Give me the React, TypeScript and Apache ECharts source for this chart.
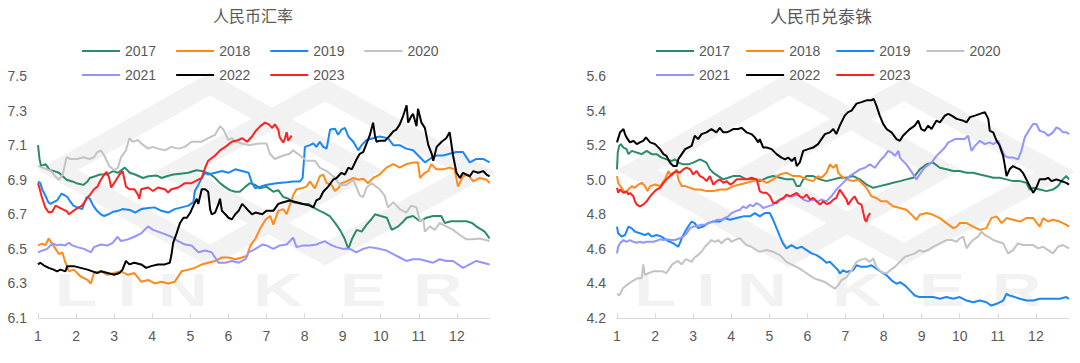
import React, { useEffect, useRef } from "react";
import * as echarts from "echarts";

const FONT = '"Liberation Sans", Arial, "Noto Sans CJK SC", sans-serif';
const CJK = '"Noto Sans CJK SC", "Liberation Sans", sans-serif';

const YEARS = ["2017", "2018", "2019", "2020", "2021", "2022", "2023"];
const COLORS = ["#2b8a6c", "#ff8a1c", "#1a87f5", "#c3c3c3", "#9494ff", "#000000", "#ff2020"];
const MONTH_TICKS = [1, 2, 3, 4, 5, 6, 7, 8, 9, 10, 11, 12];
const TITLES = ["人民币汇率", "人民币兑泰铢"];

// ---------- 人民币汇率 (left) ----------
const L2017 = [[1,7.10],[1.04,7.02],[1.08,6.98],[1.2,6.99],[1.31,6.955],[1.42,6.95],[1.55,6.94],[1.75,6.90],[1.9,6.89],[2.01,6.88],[2.19,6.87],[2.3,6.89],[2.36,6.91],[2.5,6.92],[2.63,6.93],[2.8,6.93],[2.98,6.95],[3.1,6.94],[3.28,6.97],[3.41,6.94],[3.55,6.93],[3.76,6.91],[3.9,6.92],[4.11,6.925],[4.25,6.91],[4.38,6.92],[4.55,6.93],[4.73,6.935],[4.95,6.94],[5.16,6.955],[5.3,6.95],[5.51,6.935],[5.65,6.91],[5.78,6.88],[5.9,6.86],[6.04,6.84],[6.18,6.83],[6.30,6.83],[6.45,6.86],[6.56,6.88],[6.7,6.87],[6.83,6.85],[7.0,6.86],[7.18,6.83],[7.31,6.84],[7.44,6.80],[7.58,6.79],[7.70,6.77],[7.96,6.76],[8.1,6.76],[8.23,6.74],[8.40,6.72],[8.5,6.71],[8.66,6.69],[8.8,6.65],[8.93,6.61],[9.05,6.56],[9.15,6.50],[9.25,6.56],[9.37,6.61],[9.5,6.60],[9.63,6.64],[9.75,6.67],[9.85,6.70],[10.0,6.69],[10.16,6.68],[10.29,6.61],[10.46,6.63],[10.6,6.66],[10.68,6.68],[10.85,6.69],[11.03,6.66],[11.2,6.68],[11.38,6.69],[11.59,6.69],[11.68,6.65],[11.85,6.66],[11.99,6.66],[12.25,6.66],[12.4,6.65],[12.51,6.63],[12.73,6.60],[12.86,6.56]];
const L2018 = [[1,6.52],[1.11,6.53],[1.19,6.52],[1.28,6.56],[1.37,6.53],[1.46,6.50],[1.55,6.47],[1.64,6.48],[1.72,6.42],[1.81,6.37],[1.94,6.38],[2.12,6.34],[2.30,6.32],[2.39,6.30],[2.47,6.36],[2.65,6.37],[2.83,6.35],[3.0,6.36],[3.18,6.37],[3.36,6.35],[3.53,6.36],[3.71,6.31],[3.89,6.32],[4.06,6.30],[4.24,6.31],[4.42,6.30],[4.59,6.31],[4.77,6.37],[4.95,6.38],[5.12,6.39],[5.30,6.41],[5.47,6.42],[5.65,6.43],[5.83,6.45],[6.0,6.45],[6.18,6.44],[6.36,6.45],[6.49,6.46],[6.58,6.52],[6.71,6.56],[6.84,6.62],[6.98,6.67],[7.1,6.69],[7.18,6.64],[7.31,6.72],[7.44,6.73],[7.53,6.70],[7.70,6.81],[7.79,6.845],[7.92,6.85],[8.05,6.86],[8.14,6.89],[8.27,6.85],[8.40,6.92],[8.49,6.93],[8.58,6.88],[8.71,6.87],[8.80,6.835],[8.88,6.85],[8.97,6.88],[9.10,6.89],[9.28,6.91],[9.41,6.90],[9.54,6.905],[9.67,6.88],[9.80,6.91],[9.97,6.93],[10.15,6.97],[10.33,6.99],[10.50,6.97],[10.67,6.99],[10.85,7.0],[10.98,7.0],[11.03,6.91],[11.16,6.94],[11.25,6.95],[11.33,6.99],[11.46,6.96],[11.64,6.96],[11.81,6.97],[11.94,6.96],[12.03,6.86],[12.16,6.92],[12.29,6.93],[12.43,6.89],[12.60,6.91],[12.78,6.90],[12.86,6.88]];
const L2019 = [[1,6.89],[1.06,6.88],[1.12,6.84],[1.19,6.81],[1.27,6.77],[1.33,6.76],[1.41,6.77],[1.50,6.78],[1.62,6.82],[1.70,6.81],[1.77,6.80],[1.86,6.77],[1.93,6.75],[2.03,6.74],[2.16,6.73],[2.28,6.80],[2.36,6.79],[2.45,6.75],[2.55,6.72],[2.65,6.70],[2.74,6.69],[2.85,6.70],[2.98,6.715],[3.1,6.72],[3.22,6.73],[3.41,6.725],[3.55,6.71],[3.71,6.73],[3.85,6.735],[4.06,6.74],[4.24,6.72],[4.42,6.71],[4.59,6.73],[4.77,6.74],[4.95,6.75],[5.08,6.77],[5.12,6.835],[5.21,6.87],[5.30,6.91],[5.39,6.94],[5.47,6.93],[5.65,6.94],[5.83,6.95],[6.0,6.94],[6.18,6.96],[6.36,6.95],[6.53,6.94],[6.62,6.88],[6.71,6.85],[6.84,6.86],[6.98,6.87],[7.26,6.88],[7.53,6.885],[7.70,6.89],[7.88,6.89],[7.95,6.91],[8.01,7.09],[8.14,7.10],[8.23,7.11],[8.31,7.09],[8.40,7.12],[8.49,7.09],[8.58,7.08],[8.67,7.19],[8.80,7.195],[8.88,7.16],[8.97,7.19],[9.06,7.20],[9.15,7.15],[9.28,7.12],[9.41,7.07],[9.50,7.10],[9.63,7.13],[9.80,7.14],[9.97,7.15],[10.19,7.14],[10.33,7.10],[10.50,7.10],[10.67,7.08],[10.85,7.07],[11.03,7.03],[11.16,7.00],[11.29,7.02],[11.46,7.04],[11.64,7.04],[11.81,7.05],[11.99,7.06],[12.16,7.06],[12.34,7.00],[12.51,7.02],[12.69,7.02],[12.86,7.00]];
const L2020 = [[1,6.98],[1.11,6.97],[1.24,6.96],[1.35,6.95],[1.45,6.92],[1.55,6.90],[1.65,6.93],[1.75,7.03],[1.86,7.02],[2.03,7.02],[2.2,7.03],[2.35,7.02],[2.47,7.03],[2.56,7.06],[2.65,7.07],[2.74,7.04],[2.87,6.98],[3.0,6.955],[3.1,6.97],[3.18,7.03],[3.31,7.07],[3.40,7.14],[3.49,7.12],[3.62,7.13],[3.71,7.11],[3.89,7.08],[4.02,7.09],[4.15,7.08],[4.33,7.07],[4.50,7.09],[4.68,7.08],[4.86,7.09],[5.03,7.12],[5.30,7.12],[5.47,7.14],[5.65,7.16],[5.78,7.21],[5.87,7.19],[6.0,7.13],[6.09,7.14],[6.18,7.12],[6.36,7.11],[6.53,7.10],[6.83,7.11],[7.0,7.11],[7.09,7.05],[7.22,7.02],[7.44,7.04],[7.61,7.05],[7.70,7.07],[7.88,7.04],[8.05,7.01],[8.27,7.01],[8.40,6.97],[8.58,6.95],[8.80,6.91],[8.93,6.87],[9.10,6.87],[9.28,6.90],[9.45,6.81],[9.54,6.80],[9.63,6.855],[9.76,6.88],[9.97,6.845],[10.10,6.81],[10.19,6.74],[10.33,6.77],[10.50,6.73],[10.67,6.71],[10.80,6.75],[10.94,6.74],[11.03,6.66],[11.12,6.67],[11.16,6.60],[11.29,6.63],[11.42,6.61],[11.55,6.65],[11.72,6.63],[11.90,6.61],[12.08,6.58],[12.25,6.555],[12.43,6.555],[12.60,6.56],[12.86,6.545]];
const L2021 = [[1,6.48],[1.11,6.49],[1.24,6.50],[1.33,6.52],[1.41,6.53],[1.50,6.52],[1.59,6.525],[1.72,6.52],[1.81,6.535],[1.90,6.52],[2.03,6.51],[2.21,6.50],[2.39,6.48],[2.47,6.51],[2.65,6.525],[2.83,6.52],[2.96,6.535],[3.09,6.57],[3.18,6.545],[3.36,6.555],[3.53,6.57],[3.71,6.59],[3.89,6.63],[4.02,6.61],[4.15,6.60],[4.33,6.585],[4.50,6.57],[4.68,6.545],[4.86,6.525],[5.03,6.52],[5.21,6.48],[5.39,6.49],[5.56,6.48],[5.74,6.42],[5.92,6.42],[6.09,6.43],[6.27,6.42],[6.45,6.44],[6.53,6.48],[6.71,6.50],[6.89,6.525],[7.0,6.52],[7.18,6.50],[7.35,6.52],[7.53,6.525],[7.70,6.565],[7.79,6.51],[7.96,6.52],[8.14,6.52],[8.31,6.525],[8.53,6.545],[8.67,6.525],[8.84,6.51],[9.01,6.50],[9.19,6.50],[9.36,6.48],[9.54,6.50],[9.71,6.51],[9.97,6.50],[10.15,6.49],[10.33,6.47],[10.50,6.45],[10.67,6.43],[10.85,6.44],[11.03,6.44],[11.20,6.43],[11.38,6.42],[11.55,6.44],[11.72,6.43],[11.90,6.43],[12.16,6.39],[12.25,6.40],[12.51,6.43],[12.69,6.42],[12.86,6.41]];
const L2022 = [[1,6.41],[1.06,6.42],[1.15,6.405],[1.28,6.39],[1.41,6.38],[1.50,6.37],[1.59,6.38],[1.72,6.37],[1.77,6.40],[1.94,6.40],[2.12,6.39],[2.30,6.38],[2.43,6.37],[2.56,6.36],[2.65,6.37],[2.83,6.36],[3.0,6.35],[3.14,6.36],[3.22,6.38],[3.31,6.43],[3.40,6.41],[3.53,6.42],[3.71,6.41],[3.84,6.39],[3.97,6.40],[4.15,6.41],[4.33,6.41],[4.46,6.42],[4.50,6.46],[4.55,6.535],[4.64,6.59],[4.73,6.65],[4.82,6.68],[4.91,6.68],[5.0,6.71],[5.08,6.75],[5.17,6.79],[5.21,6.76],[5.30,6.845],[5.39,6.845],[5.47,6.83],[5.52,6.73],[5.56,6.70],[5.65,6.71],[5.74,6.76],[5.78,6.79],[5.83,6.72],[5.92,6.70],[6.0,6.68],[6.09,6.67],[6.18,6.70],[6.27,6.72],[6.36,6.76],[6.45,6.74],[6.53,6.72],[6.62,6.70],[6.71,6.71],[6.89,6.70],[7.0,6.72],[7.18,6.72],[7.31,6.76],[7.44,6.77],[7.61,6.78],[7.79,6.77],[7.96,6.76],[8.14,6.75],[8.23,6.74],[8.31,6.78],[8.40,6.79],[8.49,6.83],[8.62,6.86],[8.75,6.90],[8.84,6.91],[8.97,6.94],[9.06,6.93],[9.15,6.97],[9.24,6.96],[9.37,7.02],[9.45,7.05],[9.54,7.06],[9.63,7.11],[9.71,7.155],[9.80,7.23],[9.85,7.155],[9.89,7.12],[9.97,7.125],[10.11,7.125],[10.24,7.155],[10.33,7.18],[10.41,7.19],[10.50,7.22],[10.59,7.27],[10.68,7.33],[10.72,7.23],[10.81,7.27],[10.85,7.28],[10.94,7.21],[10.98,7.31],[11.07,7.23],[11.16,7.20],[11.25,7.10],[11.34,7.05],[11.38,7.01],[11.47,7.09],[11.60,7.12],[11.72,7.14],[11.81,7.175],[11.90,7.04],[11.99,6.94],[12.08,6.91],[12.16,6.94],[12.25,6.93],[12.34,6.92],[12.43,6.95],[12.56,6.94],[12.69,6.95],[12.78,6.93],[12.86,6.92]];
const L2023 = [[1,6.88],[1.04,6.85],[1.1,6.80],[1.19,6.74],[1.28,6.71],[1.37,6.715],[1.46,6.75],[1.55,6.74],[1.64,6.73],[1.77,6.715],[1.81,6.70],[1.90,6.715],[2.03,6.735],[2.16,6.75],[2.28,6.79],[2.39,6.82],[2.47,6.845],[2.56,6.86],[2.65,6.90],[2.74,6.93],[2.80,6.945],[2.87,6.91],[2.92,6.855],[3.0,6.88],[3.14,6.93],[3.22,6.95],[3.31,6.86],[3.40,6.845],[3.53,6.845],[3.62,6.815],[3.66,6.79],[3.71,6.845],[3.89,6.855],[4.02,6.835],[4.15,6.855],[4.33,6.845],[4.42,6.826],[4.50,6.845],[4.68,6.855],[4.86,6.88],[5.03,6.88],[5.21,6.90],[5.30,6.91],[5.39,6.97],[5.47,7.01],[5.65,7.04],[5.78,7.07],[5.92,7.09],[6.09,7.12],[6.27,7.13],[6.36,7.14],[6.49,7.12],[6.62,7.15],[6.71,7.18],[6.84,7.21],[6.96,7.23],[7.06,7.22],[7.15,7.20],[7.22,7.22],[7.31,7.19],[7.35,7.145],[7.44,7.115],[7.48,7.135],[7.53,7.175],[7.57,7.125],[7.66,7.155]];

// ---------- 人民币兑泰铢 (right) ----------
const R2017 = [[1,5.06],[1.02,5.157],[1.06,5.196],[1.10,5.206],[1.17,5.186],[1.25,5.177],[1.30,5.148],[1.39,5.167],[1.52,5.157],[1.65,5.148],[1.78,5.167],[1.91,5.148],[2.04,5.148],[2.17,5.128],[2.30,5.118],[2.43,5.108],[2.52,5.118],[2.61,5.099],[2.74,5.089],[2.87,5.089],[3.0,5.099],[3.18,5.118],[3.35,5.099],[3.44,5.06],[3.53,5.04],[3.66,5.021],[3.79,5.002],[3.92,5.011],[4.05,5.021],[4.23,5.021],[4.40,5.002],[4.58,5.002],[4.75,4.992],[4.93,5.011],[5.10,5.021],[5.28,5.011],[5.45,5.002],[5.63,5.002],[5.72,4.963],[5.80,4.963],[5.89,5.002],[5.98,5.021],[6.15,5.021],[6.33,5.002],[6.50,4.992],[6.68,5.002],[6.85,5.011],[7.03,5.011],[7.20,5.021],[7.38,5.002],[7.55,4.972],[7.73,4.953],[7.90,4.963],[8.08,4.972],[8.25,4.982],[8.43,4.992],[8.60,5.002],[8.78,5.011],[8.95,5.06],[9.13,5.089],[9.30,5.099],[9.48,5.069],[9.65,5.06],[9.83,5.05],[10.0,5.05],[10.18,5.04],[10.35,5.04],[10.53,5.03],[10.70,5.021],[10.88,5.011],[11.05,5.011],[11.23,5.002],[11.40,4.992],[11.58,4.992],[11.75,4.982],[11.84,4.943],[11.93,4.953],[12.10,4.943],[12.28,4.934],[12.45,4.943],[12.58,4.963],[12.71,5.002],[12.80,5.021],[12.87,5.002]];
const R2018 = [[1,5.021],[1.03,4.982],[1.12,4.953],[1.21,4.924],[1.30,4.943],[1.39,4.963],[1.47,4.953],[1.56,4.972],[1.65,4.982],[1.74,4.963],[1.80,4.934],[1.87,4.963],[2.00,4.972],[2.13,4.963],[2.26,5.002],[2.35,5.05],[2.43,5.021],[2.57,5.06],[2.61,5.002],[2.70,4.963],[2.79,4.963],[2.92,4.953],[3.05,4.943],[3.18,4.943],[3.35,4.934],[3.53,4.934],[3.70,4.943],[3.88,4.943],[4.05,4.963],[4.23,4.972],[4.40,4.982],[4.58,4.992],[4.75,5.002],[4.93,4.982],[5.10,5.002],[5.28,5.031],[5.45,5.04],[5.63,5.021],[5.80,5.021],[5.98,5.002],[6.15,4.992],[6.28,5.021],[6.37,5.011],[6.50,5.04],[6.59,5.089],[6.68,5.069],[6.76,5.089],[6.81,5.04],[6.89,5.021],[7.03,5.002],[7.20,4.992],[7.33,5.002],[7.42,4.982],[7.55,4.953],[7.68,4.904],[7.81,4.894],[7.94,4.875],[8.08,4.875],[8.25,4.846],[8.43,4.836],[8.60,4.826],[8.78,4.788],[8.86,4.768],[8.95,4.797],[9.13,4.807],[9.30,4.797],[9.48,4.778],[9.65,4.749],[9.83,4.72],[9.92,4.729],[10.0,4.749],[10.18,4.749],[10.35,4.729],[10.53,4.71],[10.70,4.72],[10.83,4.778],[10.97,4.788],[11.10,4.749],[11.23,4.778],[11.40,4.768],[11.58,4.758],[11.75,4.778],[11.93,4.778],[12.10,4.729],[12.19,4.778],[12.32,4.758],[12.45,4.768],[12.63,4.758],[12.80,4.739],[12.87,4.729]];
const R2019 = [[1,4.729],[1.03,4.69],[1.12,4.671],[1.21,4.68],[1.30,4.729],[1.38,4.72],[1.47,4.70],[1.60,4.69],[1.73,4.68],[1.82,4.69],[1.91,4.671],[2.04,4.68],[2.17,4.671],[2.30,4.651],[2.39,4.641],[2.48,4.632],[2.61,4.612],[2.70,4.661],[2.79,4.70],[2.87,4.729],[2.96,4.758],[3.04,4.749],[3.13,4.72],[3.26,4.729],[3.39,4.749],[3.53,4.758],[3.70,4.758],[3.83,4.778],[3.97,4.768],[4.14,4.778],[4.32,4.788],[4.49,4.788],[4.62,4.807],[4.75,4.788],[4.88,4.807],[5.01,4.807],[5.10,4.768],[5.19,4.72],[5.28,4.671],[5.36,4.632],[5.45,4.603],[5.58,4.622],[5.72,4.603],[5.85,4.612],[5.98,4.593],[6.11,4.574],[6.24,4.564],[6.37,4.545],[6.50,4.52],[6.59,4.525],[6.72,4.496],[6.81,4.476],[6.85,4.457],[6.94,4.476],[7.03,4.466],[7.20,4.476],[7.29,4.505],[7.42,4.496],[7.55,4.496],[7.68,4.505],[7.81,4.486],[7.94,4.466],[8.08,4.447],[8.21,4.418],[8.34,4.398],[8.43,4.408],[8.56,4.389],[8.69,4.36],[8.82,4.33],[8.95,4.321],[9.13,4.321],[9.30,4.321],[9.48,4.311],[9.65,4.321],[9.83,4.311],[10.0,4.321],[10.18,4.301],[10.35,4.291],[10.53,4.301],[10.70,4.291],[10.83,4.272],[10.97,4.282],[11.14,4.301],[11.23,4.34],[11.31,4.33],[11.45,4.321],[11.58,4.311],[11.75,4.301],[11.93,4.301],[12.10,4.311],[12.28,4.311],[12.45,4.311],[12.63,4.311],[12.80,4.321],[12.87,4.311]];
const R2020 = [[1,4.34],[1.06,4.33],[1.15,4.37],[1.25,4.39],[1.38,4.41],[1.55,4.43],[1.65,4.43],[1.69,4.51],[1.73,4.45],[1.95,4.47],[2.2,4.47],[2.3,4.46],[2.45,4.51],[2.6,4.53],[2.7,4.51],[2.8,4.54],[2.87,4.535],[2.96,4.525],[3.05,4.554],[3.13,4.564],[3.22,4.583],[3.31,4.612],[3.40,4.632],[3.48,4.651],[3.57,4.641],[3.66,4.651],[3.74,4.632],[3.83,4.651],[3.92,4.661],[4.01,4.641],[4.09,4.651],[4.23,4.661],[4.31,4.641],[4.40,4.622],[4.53,4.612],[4.66,4.593],[4.75,4.583],[4.93,4.593],[5.10,4.583],[5.28,4.564],[5.45,4.525],[5.63,4.505],[5.80,4.486],[5.93,4.466],[6.06,4.447],[6.19,4.428],[6.33,4.418],[6.46,4.408],[6.59,4.389],[6.72,4.369],[6.81,4.389],[6.89,4.418],[7.03,4.437],[7.16,4.476],[7.29,4.525],[7.38,4.535],[7.51,4.545],[7.64,4.525],[7.73,4.545],[7.81,4.496],[7.94,4.466],[8.08,4.457],[8.17,4.476],[8.30,4.496],[8.43,4.525],[8.56,4.554],[8.69,4.564],[8.82,4.574],[8.95,4.593],[9.04,4.583],[9.17,4.593],[9.30,4.612],[9.48,4.632],[9.65,4.651],[9.79,4.651],[9.92,4.641],[10.0,4.661],[10.09,4.671],[10.18,4.603],[10.27,4.632],[10.35,4.651],[10.48,4.671],[10.57,4.70],[10.66,4.68],[10.75,4.671],[10.88,4.651],[11.01,4.641],[11.14,4.632],[11.27,4.574],[11.40,4.593],[11.53,4.632],[11.66,4.622],[11.79,4.622],[11.93,4.622],[12.06,4.603],[12.19,4.612],[12.32,4.593],[12.45,4.574],[12.58,4.612],[12.71,4.622],[12.87,4.603]];
const R2021 = [[1,4.574],[1.03,4.612],[1.08,4.632],[1.17,4.651],[1.25,4.641],[1.34,4.651],[1.43,4.641],[1.52,4.635],[1.60,4.641],[1.69,4.635],[1.78,4.641],[1.87,4.641],[1.95,4.641],[2.04,4.647],[2.13,4.655],[2.22,4.651],[2.30,4.655],[2.43,4.651],[2.52,4.651],[2.65,4.661],[2.74,4.671],[2.83,4.69],[2.92,4.72],[3.0,4.729],[3.09,4.729],[3.18,4.739],[3.31,4.739],[3.40,4.749],[3.53,4.758],[3.62,4.768],[3.75,4.768],[3.83,4.778],[3.92,4.788],[4.01,4.807],[4.10,4.817],[4.23,4.826],[4.31,4.846],[4.40,4.836],[4.49,4.855],[4.58,4.846],[4.66,4.865],[4.75,4.855],[4.84,4.836],[4.97,4.846],[5.10,4.855],[5.19,4.875],[5.28,4.885],[5.36,4.885],[5.45,4.904],[5.54,4.904],[5.63,4.904],[5.71,4.914],[5.80,4.904],[5.89,4.885],[6.02,4.875],[6.15,4.885],[6.28,4.875],[6.37,4.885],[6.50,4.875],[6.63,4.904],[6.76,4.943],[6.85,4.963],[6.98,4.992],[7.11,5.021],[7.24,5.04],[7.38,5.06],[7.51,5.069],[7.64,5.089],[7.77,5.069],[7.90,5.108],[8.03,5.138],[8.12,5.167],[8.21,5.157],[8.30,5.138],[8.39,5.167],[8.43,5.128],[8.51,5.108],[8.60,5.089],[8.69,5.06],[8.78,5.031],[8.86,5.002],[8.95,5.031],[9.04,5.06],[9.13,5.079],[9.26,5.099],[9.39,5.138],[9.48,5.157],[9.61,5.186],[9.70,5.216],[9.79,5.225],[9.87,5.235],[10.0,5.235],[10.13,5.235],[10.22,5.254],[10.31,5.167],[10.40,5.196],[10.53,5.225],[10.66,5.206],[10.79,5.216],[10.88,5.206],[11.01,5.225],[11.10,5.177],[11.18,5.138],[11.27,5.128],[11.40,5.128],[11.53,5.118],[11.62,5.167],[11.71,5.245],[11.84,5.293],[11.93,5.323],[12.01,5.323],[12.10,5.283],[12.23,5.274],[12.32,5.254],[12.45,5.274],[12.54,5.303],[12.63,5.293],[12.71,5.274],[12.80,5.274],[12.87,5.264]];
const R2022 = [[1,5.216],[1.04,5.245],[1.08,5.274],[1.17,5.293],[1.21,5.264],[1.25,5.245],[1.34,5.216],[1.43,5.225],[1.52,5.206],[1.60,5.216],[1.69,5.225],[1.76,5.245],[1.87,5.216],[2.0,5.206],[2.13,5.177],[2.22,5.148],[2.30,5.138],[2.39,5.099],[2.48,5.079],[2.57,5.079],[2.61,5.118],[2.70,5.148],[2.79,5.177],[2.87,5.186],[2.96,5.196],[3.04,5.254],[3.13,5.235],[3.22,5.264],[3.35,5.274],[3.48,5.293],[3.61,5.274],[3.70,5.30],[3.79,5.274],[3.88,5.274],[3.97,5.283],[4.05,5.293],[4.18,5.293],[4.27,5.30],[4.40,5.274],[4.53,5.264],[4.62,5.245],[4.71,5.216],[4.75,5.235],[4.84,5.186],[4.93,5.186],[5.06,5.177],[5.19,5.148],[5.32,5.128],[5.41,5.118],[5.50,5.128],[5.59,5.108],[5.67,5.128],[5.72,5.079],[5.80,5.10],[5.89,5.167],[6.02,5.177],[6.15,5.186],[6.28,5.206],[6.37,5.235],[6.46,5.264],[6.59,5.274],[6.68,5.293],[6.76,5.264],[6.85,5.313],[6.98,5.371],[7.07,5.391],[7.16,5.40],[7.29,5.44],[7.42,5.449],[7.55,5.459],[7.68,5.459],[7.74,5.468],[7.81,5.43],[7.90,5.371],[7.99,5.323],[8.08,5.293],[8.21,5.274],[8.34,5.235],[8.43,5.225],[8.51,5.254],[8.60,5.274],[8.69,5.293],[8.82,5.313],[8.91,5.342],[8.99,5.293],[9.08,5.283],[9.17,5.313],[9.26,5.293],[9.39,5.342],[9.48,5.332],[9.61,5.371],[9.70,5.381],[9.79,5.371],[9.92,5.352],[10.09,5.342],[10.18,5.332],[10.27,5.362],[10.40,5.371],[10.53,5.381],[10.66,5.391],[10.75,5.352],[10.79,5.283],[10.88,5.274],[10.97,5.225],[11.05,5.196],[11.14,5.138],[11.18,5.089],[11.23,5.021],[11.31,5.06],[11.40,5.079],[11.49,5.069],[11.58,5.06],[11.66,5.04],[11.75,5.002],[11.84,4.963],[11.93,4.924],[12.01,4.953],[12.10,5.002],[12.23,5.002],[12.32,5.011],[12.41,4.992],[12.54,5.002],[12.67,4.992],[12.80,4.982],[12.87,4.972]];
const R2023 = [[1,4.953],[1.03,4.924],[1.08,4.943],[1.17,4.924],[1.25,4.933],[1.30,4.914],[1.34,4.924],[1.43,4.904],[1.47,4.875],[1.52,4.856],[1.60,4.846],[1.69,4.856],[1.78,4.875],[1.87,4.904],[1.95,4.924],[2.04,4.943],[2.13,4.953],[2.22,4.982],[2.30,5.002],[2.39,5.021],[2.48,5.04],[2.57,5.05],[2.65,5.04],[2.74,5.06],[2.83,5.07],[2.92,5.06],[3.0,5.031],[3.09,5.05],[3.18,5.021],[3.27,5.011],[3.35,4.992],[3.44,5.021],[3.53,4.972],[3.62,4.992],[3.70,5.002],[3.79,4.982],[3.88,4.992],[3.97,4.972],[4.05,4.982],[4.14,5.002],[4.27,5.002],[4.40,5.002],[4.53,5.011],[4.67,5.002],[4.75,4.933],[4.84,4.924],[4.93,4.924],[5.02,4.904],[5.10,4.865],[5.19,4.865],[5.28,4.885],[5.37,4.895],[5.45,4.914],[5.54,4.904],[5.63,4.914],[5.72,4.924],[5.80,4.904],[5.89,4.895],[5.98,4.914],[6.07,4.885],[6.15,4.895],[6.24,4.875],[6.33,4.856],[6.42,4.875],[6.50,4.86],[6.59,4.865],[6.68,4.885],[6.76,4.895],[6.85,4.943],[6.94,4.914],[7.03,4.885],[7.07,4.856],[7.16,4.885],[7.24,4.904],[7.33,4.865],[7.42,4.856],[7.46,4.817],[7.51,4.768],[7.55,4.758],[7.59,4.788],[7.65,4.807]];

const LEFT_SERIES = [L2017, L2018, L2019, L2020, L2021, L2022, L2023];
const RIGHT_SERIES = [R2017, R2018, R2019, R2020, R2021, R2022, R2023];
const LEFT_Y = { min: 6.1, max: 7.5 };
const RIGHT_Y = { min: 4.2, max: 5.6 };

const LEGEND_ICON = "path://M0,0 L38,0 L38,2.2 L0,2.2 Z";

function watermark(dx: number) {
  const wm = "#f2f2f2";
  const letters: [string, number][] = [["L", 76], ["I", 127], ["N", 183], ["K", 278], ["E", 363], ["R", 438]];
  const els: any[] = [
    { type: "polygon", z: -10, silent: true, shape: { points: [[58 + dx, 170], [210 + dx, 84], [362 + dx, 170], [210 + dx, 256]] }, style: { fill: "none", stroke: wm, lineWidth: 20 } },
    { type: "polygon", z: -10, silent: true, shape: { points: [[175 + dx, 172], [325 + dx, 90], [475 + dx, 172], [325 + dx, 254]] }, style: { fill: "none", stroke: wm, lineWidth: 20 } },
  ];
  letters.forEach(([ch, x]) => {
    els.push({
      type: "text", z: -10, silent: true, x: x + dx, y: 290, scaleX: 1.5,
      style: { text: ch, fill: wm, font: 'bold 46px "Liberation Sans", Arial, sans-serif', align: "center", verticalAlign: "middle", textAlign: "center", textVerticalAlign: "middle" },
    });
  });
  return els;
}

function buildOption() {
  const grids = [
    { left: 38, top: 76, width: 452, height: 242 },
    { left: 617, top: 76, width: 452, height: 242 },
  ];
  const xAxis = [0, 1].map((i) => ({
    type: "value", gridIndex: i, min: 1, max: 12.87, interval: 1,
    axisLine: { show: true, lineStyle: { color: "#d9d9d9", width: 1 } },
    axisTick: { show: true, inside: true, length: 5, customValues: MONTH_TICKS, lineStyle: { color: "#d9d9d9" } },
    axisLabel: { customValues: MONTH_TICKS, color: "#595959", fontSize: 14, fontFamily: FONT, margin: 11,
      formatter: (v: number) => (Number.isInteger(v) ? String(v) : "") },
    splitLine: { show: false },
  }));
  const yAxis = [LEFT_Y, RIGHT_Y].map((r, i) => ({
    type: "value", gridIndex: i, min: r.min, max: r.max, interval: 0.2,
    axisLine: { show: false }, axisTick: { show: false }, splitLine: { show: false },
    axisLabel: { color: "#595959", fontSize: 14, fontFamily: FONT, margin: 11, formatter: (v: number) => v.toFixed(1) },
  }));
  const series: any[] = [];
  [LEFT_SERIES, RIGHT_SERIES].forEach((group, gi) => {
    group.forEach((data, k) => {
      series.push({
        type: "line", name: YEARS[k], xAxisIndex: gi, yAxisIndex: gi, data,
        symbol: "none", showSymbol: false, smooth: false,
        lineStyle: { color: COLORS[k], width: 2 }, itemStyle: { color: COLORS[k] },
      });
    });
  });
  const legendBase = {
    orient: "horizontal", padding: 0, itemWidth: 38, itemHeight: 14, icon: LEGEND_ICON,
    textStyle: { color: "#595959", fontSize: 14, fontFamily: FONT },
  };
  const legend = [
    { ...legendBase, left: 82, top: 44, itemGap: 20, data: YEARS.slice(0, 4) },
    { ...legendBase, left: 82, top: 68, itemGap: 20, data: YEARS.slice(4) },
    { ...legendBase, left: 656, top: 44, itemGap: 16, data: YEARS.slice(0, 4) },
    { ...legendBase, left: 656, top: 68, itemGap: 16, data: YEARS.slice(4) },
  ];
  const graphic = [
    ...watermark(0),
    ...watermark(579),
    { type: "text", x: 253, y: 15, silent: true, style: { text: TITLES[0], fill: "#595959", font: "16px " + CJK, align: "center", verticalAlign: "middle", textAlign: "center", textVerticalAlign: "middle" } },
    { type: "text", x: 821, y: 15, silent: true, style: { text: TITLES[1], fill: "#595959", font: "17px " + CJK, align: "center", verticalAlign: "middle", textAlign: "center", textVerticalAlign: "middle" } },
  ];
  return {
    animation: false,
    backgroundColor: "#ffffff",
    textStyle: { fontFamily: FONT },
    grid: grids, xAxis, yAxis, series, legend, graphic,
  };
}

export default function App() {
  const ref = useRef<HTMLDivElement>(null);
  useEffect(() => {
    if (!ref.current) return;
    const chart = echarts.init(ref.current, undefined, { renderer: "svg" });
    chart.setOption(buildOption() as any);
    return () => chart.dispose();
  }, []);
  return (
    <div
      ref={ref}
      style={{ position: "fixed", left: 0, top: 0, width: 1080, height: 363, background: "#fff" }}
    />
  );
}
